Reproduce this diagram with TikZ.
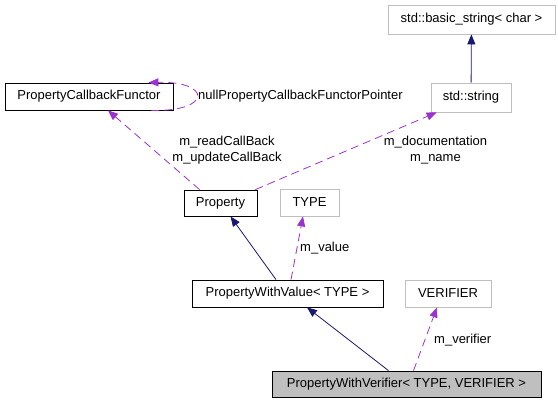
\documentclass[tikz,border=0pt]{standalone}
\usepackage{fontspec}
\setmainfont{Liberation Sans}
\usetikzlibrary{arrows.meta,calc}
\definecolor{navy}{HTML}{191970}
\definecolor{purp}{HTML}{9A32CD}
\definecolor{gbord}{HTML}{BFBFBF}
\definecolor{gfill}{HTML}{BFBFBF}
\begin{document}
\begin{tikzpicture}[x=1pt,y=-1pt,
  every node/.style={font=\fontsize{13}{16}\selectfont},
  box/.style={draw=black,line width=0.8pt,inner sep=0pt,minimum width=#1,minimum height=27pt},
  gbox/.style={draw=gbord,line width=0.8pt,inner sep=0pt,minimum width=#1,minimum height=27pt},
  inh/.style={draw=navy,line width=0.8pt,-{Triangle[length=10pt,width=8pt]}},
  use/.style={draw=purp,line width=0.8pt,dash pattern=on 8pt off 5pt,-{Triangle[length=10pt,width=8pt]}},
  lbl/.style={inner sep=0pt,align=center}]
\useasboundingbox (0,0) rectangle (558,402);
\node[gbox=167pt,minimum height=29pt] (bs) at (471.5,19.5) {std::basic\_string< char >};
\node[gbox=80pt,minimum height=29pt] (str) at (471,97.5) {std::string};
\node[box=168pt] (pcf) at (89,96.5) {PropertyCallbackFunctor};
\node[box=73pt,minimum height=26pt] (prop) at (220.5,203) {Property};
\node[gbox=59pt] (type) at (309.5,202.5) {TYPE};
\node[box=191pt] (pwv) at (287.5,293.5) {PropertyWithValue< TYPE >};
\node[gbox=86pt] (ver) at (448,293.5) {VERIFIER};
\node[draw=black,fill=gfill,line width=0.8pt,inner sep=0pt,minimum width=269pt,minimum height=26pt] (pwver) at (406.5,384) {PropertyWithVerifier< TYPE, VERIFIER >};
% inheritance
\draw[inh] (str) -- (bs);
\draw[inh] ($(pwv.north)+(-11.5,0)$) -- ($(prop.south)+(10,0)$);
\draw[inh] ($(pwver.north)+(-18,0)$) -- ($(pwv.south)+(19.5,0)$);
% usage
\draw[use] ($(pcf.south east)+(-22,0)$) .. controls (212,112) and (212,81) .. ($(pcf.north east)+(-25,0)$);
\node[lbl,anchor=west] (l1) at (198,96) {nullPropertyCallbackFunctorPointer};
\draw[use] ($(prop.north west)+(16,0)$) -- ($(pcf.south)+(19,0)$);
\node[lbl] (l2) at (227,150) {m\_readCallBack\\m\_updateCallBack};
\draw[use] ($(prop.north east)+(-2,0)$) -- ($(str.south west)+(6,0)$);
\node[lbl] (l3) at (435.5,150) {m\_documentation\\m\_name};
\draw[use] ($(pwv.north)+(3.5,0)$) -- ($(type.south)+(-6.5,0)$);
\node[lbl,anchor=west] (l4) at (300,248) {m\_value};
\draw[use] ($(pwver.north)+(7,0)$) -- ($(ver.south)+(-11,0)$);
\node[lbl,anchor=west] (l5) at (434,340) {m\_verifier};
\end{tikzpicture}
\end{document}
